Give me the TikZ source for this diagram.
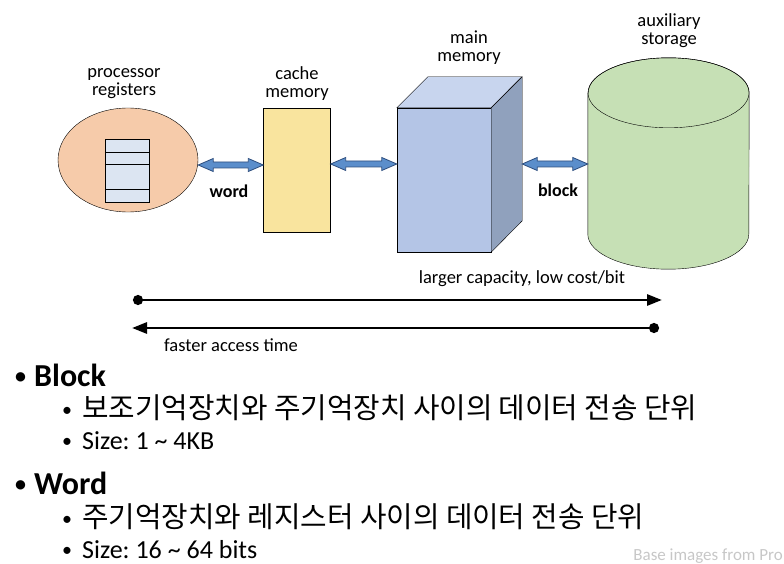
\documentclass[tikz,border=0pt]{standalone}
\usepackage{fontspec}
\setmainfont{Carlito}
\newfontfamily\krfont{Noto Sans CJK KR}
\usepackage{tikz}
\usetikzlibrary{shapes,arrows.meta,calc}
\frenchspacing

\definecolor{regpeach}{HTML}{F6CBAA}
\definecolor{regblue}{HTML}{DCE5F2}
\definecolor{cacheyel}{HTML}{F9E49E}
\definecolor{memblue}{HTML}{B4C5E6}
\definecolor{memtop}{HTML}{C8D5EE}
\definecolor{memside}{HTML}{90A1BD}
\definecolor{auxgreen}{HTML}{C6E0B5}
\definecolor{arrowblue}{HTML}{5B8ECB}
\definecolor{arrowline}{HTML}{2E4E7E}

\tikzset{
  lbl/.style={align=center, font=\fontsize{18.5}{18}\selectfont},
  tag/.style={font=\fontsize{18}{18}\selectfont\bfseries},
  blockarrow/.style={fill=arrowblue, draw=arrowline, line width=0.8pt, line join=miter},
  hier/.style={line width=2.8pt, {Circle[length=10pt]}-{Triangle[length=15pt,width=11pt]}},
  bigitem/.style={anchor=base west, inner sep=0, font=\fontsize{32}{32}\selectfont\bfseries},
  subitem/.style={anchor=base west, inner sep=0, font=\fontsize{26}{26}\selectfont}
}

% fat two-headed arrow from #1 to #2 (same height)
\newcommand\dblarrow[2]{%
  \path let \p1=(#1), \p2=(#2) in
    [blockarrow] (\x1,\y1) -- ++(15pt,6.5pt) -- ++(0,-3.5pt) -- (\x2-15pt,\y1+3pt)
    -- ++(0,3.5pt) -- (\x2,\y1) -- ++(-15pt,-6.5pt) -- ++(0,3.5pt)
    -- (\x1+15pt,\y1-3pt) -- ++(0,-3.5pt) -- cycle;
}
\newcommand\bigdot{\makebox[19pt][l]{\raisebox{3pt}{\fontsize{22}{22}\selectfont •}}}
\newcommand\subdot{\makebox[20pt][l]{\raisebox{2pt}{\fontsize{20}{20}\selectfont •}}}

\begin{document}
\begin{tikzpicture}[x=1pt,y=-1pt]
\useasboundingbox (0,0) rectangle (784,564);

\node (procreg) at (128,160) [draw, shape=ellipse, fill=regpeach, minimum width=140pt, minimum height=104pt, inner sep=0] {};
\node (regfile) at (127,170.5) [draw, fill=regblue, minimum width=44pt, minimum height=63pt, inner sep=0] {};
\foreach \d in {13,25,50}
  \draw ([yshift=-\d pt]regfile.north west) -- ([yshift=-\d pt]regfile.north east);
\node (cache) at (297,170) [draw, fill=cacheyel, minimum width=67pt, minimum height=124pt, inner sep=0] {};

% main memory as a box
\node (mainmem) at (444,180) [draw, fill=memblue, minimum width=94pt, minimum height=144pt, inner sep=0] {};
\filldraw [fill=memtop] (mainmem.north west) -- ++(31pt,31pt) -- ++(94pt,0) -- (mainmem.north east) -- cycle;
\filldraw [fill=memside] (mainmem.north east) -- ++(31pt,31pt) -- ++(0,-144pt) -- (mainmem.south east) -- cycle;
\coordinate (memside) at ([xshift=31pt]mainmem.south east);

% auxiliary storage as a cylinder
\node (auxstor) at (668.5,163.5) [minimum width=161pt, minimum height=141pt, inner sep=0] {};
\filldraw [fill=auxgreen] (auxstor.north west) -- (auxstor.south west)
  arc [start angle=180, end angle=360, x radius=80.5pt, y radius=35pt] -- (auxstor.north east)
  arc [start angle=0, end angle=180, x radius=80.5pt, y radius=35pt] -- cycle;
\draw (auxstor.north) ellipse [x radius=80.5pt, y radius=35pt];

\node (lblproc) at (124,83.5) [lbl] {processor\\registers};
\node (lblcache) at (297,83.5) [lbl] {cache\\memory};
\node (lblmain) at (469,48) [lbl] {main\\memory};
\node (lblaux) at (669,31) [lbl] {auxiliary\\storage};

\coordinate (lvlw) at (0,165);
\coordinate (lvlb) at (0,164);
\dblarrow{procreg.east |- lvlw}{cache.west |- lvlw}
\dblarrow{cache.east |- lvlb}{mainmem.west |- lvlb}
\dblarrow{memside |- lvlb}{auxstor.west |- lvlb}
\node (word) at (229,191) [tag] {word};
\node (block) at (558,190) [tag] {block};

\coordinate (capL) at (133,300);
\coordinate (capR) at (662,300);
\coordinate (accR) at (659,328);
\coordinate (accL) at (132,328);
\draw [hier] (capL) -- (capR);
\draw [hier] (accR) -- (accL);
\node (caplbl) at (522,279) [lbl] {larger capacity, low cost/bit};
\node (acclbl) at (231,345) [lbl] {faster access time};

% bullet text
\node (blk) at (15,386) [bigitem] {\bigdot Block};
\node (blk1) at (62,418) [subitem] {\subdot{\krfont\fontsize{28.8}{28}\selectfont 보조기억장치와 주기억장치 사이의 데이터 전송 단위}};
\node (blk2) at (62,449.5) [subitem] {\subdot Size: 1 \char`~{} 4KB};
\node (wrd) at (15,494) [bigitem] {\bigdot Word};
\node (wrd1) at (62,527) [subitem] {\subdot{\krfont\fontsize{28.8}{28}\selectfont 주기억장치와 레지스터 사이의 데이터 전송 단위}};
\node (wrd2) at (62,558.5) [subitem] {\subdot Size: 16 \char`~{} 64 bits};
\node (credit) at (783,556) [anchor=east, inner sep=0, text=black!22, font=\fontsize{17}{17}\selectfont] {Base images from Pro};
\end{tikzpicture}
\end{document}
